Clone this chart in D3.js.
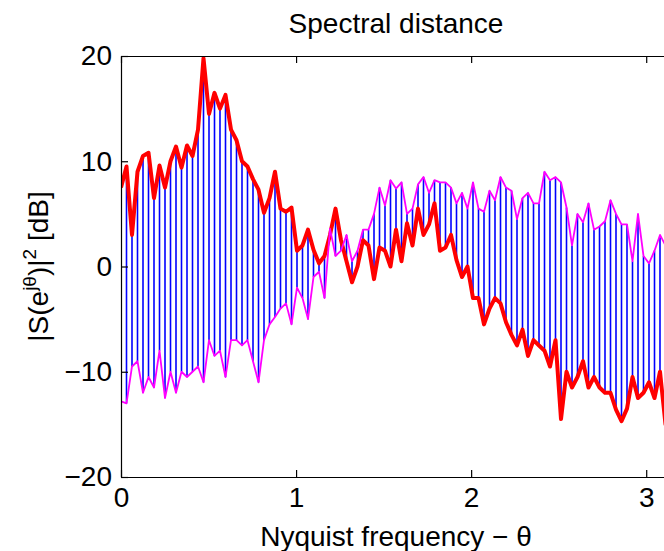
<!DOCTYPE html>
<html lang="en">
<head>
    <meta charset="UTF-8">
    <title>Spectral distance</title>
    <script src="https://cdn.jsdelivr.net/npm/d3@7"></script>
    <style>
        body { margin: 0; background: #fff; }
        svg text { font-family: "Liberation Sans", Arial, sans-serif; fill: #000; }
        .axis path, .axis line { stroke: #000; stroke-width: 1.2px; }
        .axis text { font-size: 28px; }
    </style>
</head>
<body>
    <script>
        // frequency grid: 101 samples from 0 to pi
        const nSamples = 101;
        const thetaMax = Math.PI;

        // |S|^2 in dB, first spectrum (thick red)
        const redDb = [
            7.5, 9.5, 3.0, 9.0, 10.5, 10.8, 6.5, 9.6, 7.5, 10.0,
            11.4, 9.4, 11.5, 10.5, 13.0, 19.8, 14.5, 16.5, 15.0, 16.3,
            13.0, 12.0, 10.0, 9.5, 8.3, 7.3, 5.1, 6.5, 9.0, 5.5,
            5.2, 5.6, 1.5, 2.0, 3.5, 1.6, 0.3, 1.0, 3.0, 5.5,
            2.5, 0.5, -1.5, 0.0, 2.5, 2.0, -1.2, 1.8, 1.5, 0.0,
            3.5, 0.5, 4.1, 2.0, 5.5, 3.0, 4.0, 6.0, 1.5, 1.8,
            3.0, 0.6, -1.0, 0.0, -3.0, -3.0, -5.5, -4.0, -3.0, -3.5,
            -5.3, -6.5, -7.5, -6.0, -8.5, -7.0, -7.5, -8.0, -9.5, -7.0,
            -14.5, -10.0, -11.5, -10.5, -9.0, -11.5, -10.5, -11.5, -12.0, -12.0,
            -13.6, -14.7, -13.5, -10.5, -12.5, -12.0, -11.0, -12.5, -10.0, -15.0,
            -16.0
        ];

        // second spectrum (thin magenta)
        const magentaDb = [
            -12.8, -13.0, -9.5, -9.0, -12.0, -10.5, -11.5, -8.0, -12.5, -10.0,
            -12.0, -10.0, -10.5, -10.0, -9.5, -11.0, -7.0, -8.5, -8.0, -10.5,
            -7.0, -7.0, -7.5, -7.0, -9.0, -11.0, -7.0, -5.5, -4.8, -4.0,
            -3.5, -5.5, -2.0, -3.0, -5.0, -1.0, -0.5, -3.0, 3.6, 1.0,
            1.5, 3.0, 0.5, 1.5, 3.5, 3.5, 5.0, 7.5, 5.8, 8.2,
            7.4, 8.0, 5.0, 5.5, 7.8, 8.5, 7.0, 8.2, 8.0, 8.0,
            7.5, 6.0, 7.0, 5.5, 8.0, 5.5, 5.2, 7.2, 6.3, 8.5,
            7.5, 7.2, 4.5, 6.5, 7.0, 6.0, 6.0, 9.0, 8.2, 8.5,
            8.0, 5.6, 2.0, 5.0, 4.2, 6.0, 3.5, 3.8, 4.3, 6.3,
            5.0, 4.0, 4.0, 0.5, 5.0, 1.0, 0.3, 1.5, 3.0, 2.0,
            1.5
        ];

        const xTicks = [0, 1, 2, 3];
        const yTicks = [-20, -10, 0, 10, 20];

        const width = 664, height = 551;
        const margin = { top: 56, right: -7, bottom: 74, left: 121 };
        const plotW = width - margin.left - margin.right;
        const plotH = height - margin.top - margin.bottom;

        const data = d3.range(nSamples).map(i => ({
            theta: i * thetaMax / (nSamples - 1),
            red: redDb[i],
            magenta: magentaDb[i]
        }));

        const x = d3.scaleLinear().domain([0, thetaMax]).range([0, plotW]);
        const y = d3.scaleLinear().domain([-20, 20]).range([plotH, 0]);

        const svg = d3.select("body").append("svg")
            .attr("width", width)
            .attr("height", height);

        const g = svg.append("g")
            .attr("transform", `translate(${margin.left},${margin.top})`);

        g.append("clipPath").attr("id", "plotClip")
            .append("rect").attr("width", plotW).attr("height", plotH);

        const plot = g.append("g").attr("clip-path", "url(#plotClip)");

        // blue stems between the two spectra
        plot.selectAll("line.stem")
            .data(data)
            .enter().append("line")
            .attr("class", "stem")
            .attr("x1", d => x(d.theta))
            .attr("x2", d => x(d.theta))
            .attr("y1", d => y(d.red))
            .attr("y2", d => y(d.magenta))
            .attr("stroke", "#0000ff")
            .attr("stroke-width", 1.6);

        const redLine = d3.line().x(d => x(d.theta)).y(d => y(d.red));
        const magLine = d3.line().x(d => x(d.theta)).y(d => y(d.magenta));

        plot.append("path")
            .datum(data)
            .attr("d", redLine)
            .attr("fill", "none")
            .attr("stroke", "#ff0000")
            .attr("stroke-width", 4)
            .attr("stroke-linejoin", "round");

        plot.append("path")
            .datum(data)
            .attr("d", magLine)
            .attr("fill", "none")
            .attr("stroke", "#ff00ff")
            .attr("stroke-width", 1.8)
            .attr("stroke-linejoin", "round");

        // box with inward ticks
        g.append("g").attr("class", "axis")
            .attr("transform", `translate(0,${plotH})`)
            .call(d3.axisBottom(x).tickValues(xTicks).tickFormat(d3.format("d"))
                .tickSize(-7).tickSizeOuter(0).tickPadding(10));

        g.append("g").attr("class", "axis")
            .call(d3.axisLeft(y).tickValues(yTicks)
                .tickSize(-7).tickSizeOuter(0).tickPadding(9));

        g.append("g").attr("class", "axis")
            .call(d3.axisTop(x).tickValues(xTicks).tickFormat("")
                .tickSize(-7).tickSizeOuter(0));

        g.append("g").attr("class", "axis")
            .attr("transform", `translate(${plotW},0)`)
            .call(d3.axisRight(y).tickValues(yTicks).tickFormat("")
                .tickSize(-7).tickSizeOuter(0));

        g.selectAll(".axis .tick text").attr("font-size", 28);

        // title and labels
        svg.append("text")
            .attr("x", margin.left + plotW / 2)
            .attr("y", 33)
            .attr("text-anchor", "middle")
            .attr("font-size", 28)
            .text("Spectral distance");

        svg.append("text")
            .attr("x", margin.left + plotW / 2)
            .attr("y", 546)
            .attr("text-anchor", "middle")
            .attr("font-size", 28)
            .text("Nyquist frequency \u2212 \u03b8");

        const yl = svg.append("text")
            .attr("transform", `translate(48,${margin.top + plotH / 2}) rotate(-90)`)
            .attr("text-anchor", "middle")
            .attr("font-size", 28);
        yl.append("tspan").text("|S(e");
        yl.append("tspan").attr("font-size", 19).attr("dy", -12).text("j\u03b8");
        yl.append("tspan").attr("dy", 12).text(")|");
        yl.append("tspan").attr("font-size", 19).attr("dy", -12).text("2");
        yl.append("tspan").attr("dy", 12).text(" [dB]");
    </script>
</body>
</html>
